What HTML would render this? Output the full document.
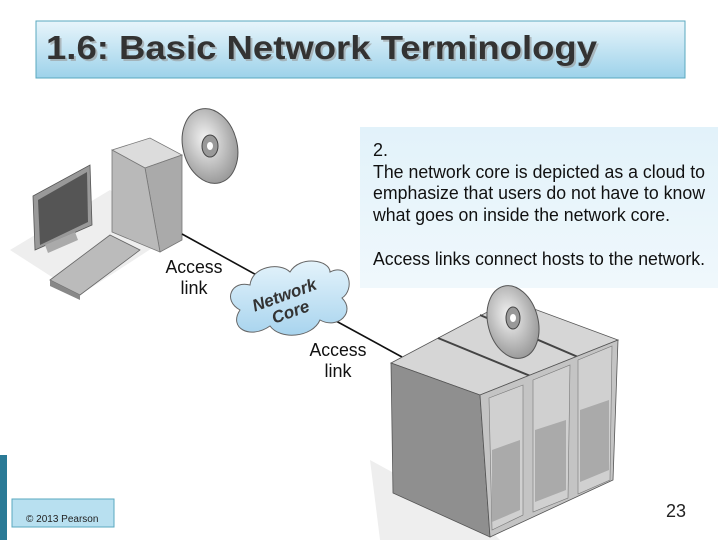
<!DOCTYPE html>
<html><head><meta charset="utf-8"><style>
body{margin:0;width:720px;height:540px;overflow:hidden;background:#fff;font-family:"Liberation Sans",sans-serif}
</style></head><body>
<svg width="720" height="540" viewBox="0 0 720 540" xmlns="http://www.w3.org/2000/svg" font-family="Liberation Sans, sans-serif">
<defs>
<linearGradient id="tg" x1="0" y1="0" x2="0" y2="1"><stop offset="0" stop-color="#e8f5fb"/><stop offset="1" stop-color="#9dd2ea"/></linearGradient>
<linearGradient id="bg2" x1="0" y1="0" x2="0" y2="1"><stop offset="0" stop-color="#e2f2fa"/><stop offset="1" stop-color="#f0f8fc"/></linearGradient>
<radialGradient id="cd" cx="0.45" cy="0.4" r="0.6"><stop offset="0" stop-color="#f4f4f4"/><stop offset="1" stop-color="#9a9a9a"/></radialGradient>
<linearGradient id="cl" x1="0" y1="0" x2="0" y2="1"><stop offset="0" stop-color="#e4f3fb"/><stop offset="1" stop-color="#a8d4ee"/></linearGradient>
</defs>
<rect x="36" y="21" width="649" height="57" fill="url(#tg)" stroke="#5aa8bf" stroke-width="1"/>
<text x="46" y="59" font-size="33" font-weight="bold" fill="#999" opacity="0.6" transform="translate(2,2)" textLength="551" lengthAdjust="spacingAndGlyphs">1.6: Basic Network Terminology</text>
<text x="46" y="59" font-size="33" font-weight="bold" fill="#333" textLength="551" lengthAdjust="spacingAndGlyphs">1.6: Basic Network Terminology</text>
<rect x="360" y="127" width="358" height="161" fill="url(#bg2)"/>
<g font-size="18" fill="#111">
<text x="373" y="156">2.</text>
<text x="373" y="178" textLength="332" lengthAdjust="spacingAndGlyphs">The network core is depicted as a cloud to</text>
<text x="373" y="199" textLength="332" lengthAdjust="spacingAndGlyphs">emphasize that users do not have to know</text>
<text x="373" y="221" textLength="297" lengthAdjust="spacingAndGlyphs">what goes on inside the network core.</text>
<text x="373" y="265" textLength="332" lengthAdjust="spacingAndGlyphs">Access links connect hosts to the network.</text>
</g>
<!-- PC -->
<polygon points="10,250 110,190 180,230 80,295" fill="#eee"/>
<polygon points="112,150 150,138 182,155 182,240 160,250 112,232" fill="#c9c9c9"/>
<polygon points="112,150 150,138 182,155 145,168" fill="#dcdcdc" stroke="#777" stroke-width="0.8"/>
<polygon points="145,168 182,155 182,240 160,252" fill="#aaa" stroke="#777" stroke-width="0.8"/>
<polygon points="112,150 145,168 160,252 112,232" fill="#b9b9b9" stroke="#777" stroke-width="0.8"/>
<polygon points="33,196 90,165 92,225 35,250" fill="#999" stroke="#555" stroke-width="0.8"/>
<polygon points="38,200 87,172 88,222 40,245" fill="#555"/>
<polygon points="45,245 75,232 78,240 48,253" fill="#aaa"/>
<polygon points="50,280 110,235 140,250 80,295" fill="#bbb" stroke="#666" stroke-width="0.8"/>
<polygon points="50,280 80,295 80,300 50,286" fill="#888"/>
<ellipse cx="210" cy="146" rx="27" ry="38" fill="url(#cd)" stroke="#555" transform="rotate(-15 210 146)"/>
<ellipse cx="210" cy="146" rx="8" ry="11" fill="#999" stroke="#444"/>
<ellipse cx="210" cy="146" rx="3" ry="4" fill="#fff"/>
<!-- lines -->
<line x1="182" y1="234" x2="262" y2="278" stroke="#111" stroke-width="1.6"/>
<line x1="325" y1="315" x2="402" y2="357" stroke="#111" stroke-width="1.6"/>
<!-- cloud -->
<path d="M240,310 C222,300 232,280 250,285 C252,266 280,262 290,272 C300,255 330,260 330,272 C350,262 355,290 342,298 C356,312 338,330 320,320 C312,338 280,340 270,326 C250,340 228,328 240,310Z" fill="url(#cl)" stroke="#666" stroke-width="1"/>
<g transform="rotate(-20 288 305)" font-style="italic" font-weight="bold" font-size="17" fill="#333" text-anchor="middle"><text x="288" y="300">Network</text><text x="288" y="318">Core</text></g>
<g font-size="18" fill="#111" text-anchor="middle">
<text x="194" y="273" textLength="57" lengthAdjust="spacingAndGlyphs">Access</text><text x="194" y="294">link</text>
<text x="338" y="356" textLength="57" lengthAdjust="spacingAndGlyphs">Access</text><text x="338" y="377">link</text>
</g>
<!-- servers -->
<polygon points="370,460 480,520 500,540 380,540" fill="#eee"/>
<polygon points="391,363 510,300 618,340 480,395" fill="#d6d6d6" stroke="#555" stroke-width="0.8"/>
<line x1="438" y1="338" x2="545" y2="382" stroke="#444" stroke-width="2"/>
<line x1="480" y1="315" x2="585" y2="360" stroke="#444" stroke-width="2"/>
<polygon points="391,363 480,395 490,537 393,493" fill="#8f8f8f" stroke="#555" stroke-width="0.8"/>
<polygon points="480,395 618,340 613,480 490,537" fill="#c4c4c4" stroke="#555" stroke-width="0.8"/>
<polygon points="489,398 523,385 523,515 492,530" fill="#d0d0d0" stroke="#777" stroke-width="0.6"/>
<polygon points="533,380 570,365 568,498 533,512" fill="#d0d0d0" stroke="#777" stroke-width="0.6"/>
<polygon points="578,360 612,346 610,480 578,494" fill="#d0d0d0" stroke="#777" stroke-width="0.6"/>
<polygon points="492,450 520,440 520,510 492,522" fill="#aaa"/>
<polygon points="535,430 566,420 566,490 535,502" fill="#aaa"/>
<polygon points="580,410 609,400 609,470 580,482" fill="#aaa"/>
<ellipse cx="513" cy="322" rx="25" ry="37" fill="url(#cd)" stroke="#555" transform="rotate(-15 513 322)"/>
<ellipse cx="513" cy="318" rx="7" ry="11" fill="#999" stroke="#444"/>
<ellipse cx="513" cy="318" rx="3" ry="4" fill="#fff"/>
<rect x="0" y="455" width="7" height="85" fill="#2a7a96"/>
<rect x="12" y="499" width="102" height="28" fill="#b8e0f0" stroke="#5aa8bf"/>
<text x="26" y="522" font-size="10" fill="#222">© 2013 Pearson</text>
<text x="666" y="517" font-size="18" fill="#222">23</text>
</svg>
</body></html>
